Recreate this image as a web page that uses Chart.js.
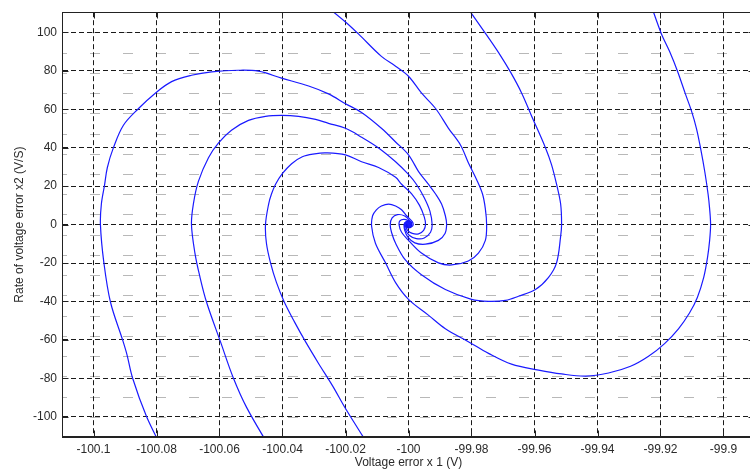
<!DOCTYPE html>
<html>
<head>
<meta charset="utf-8">
<script src="https://cdn.jsdelivr.net/npm/chart.js@4/dist/chart.umd.min.js"></script>
<style>
  html, body { margin: 0; padding: 0; background: #fff; overflow: hidden; }
  #wrap { width: 760px; height: 474px; }
</style>
</head>
<body>
<div id="wrap"><canvas id="c" width="760" height="474"></canvas></div>
<script>
// Axis ranges and tick marks
const xMin = -100.11, xMax = -99.89;
const yMin = -110.5, yMax = 110.5;
const xTicks = [-100.1, -100.08, -100.06, -100.04, -100.02, -100, -99.98, -99.96, -99.94, -99.92, -99.9];
const xTickLabels = ['-100.1', '-100.08', '-100.06', '-100.04', '-100.02', '-100', '-99.98', '-99.96', '-99.94', '-99.92', '-99.9'];
const yTicks = [-100, -80, -60, -40, -20, 0, 20, 40, 60, 80, 100];

// Phase trajectories [x1, x2] spiralling into the equilibrium point
const trajA = [
  [-100.0785, -115.6], [-100.0832, -99.7], [-100.0876, -79.8], [-100.0894, -67.5], [-100.0908, -59.8],
  [-100.0946, -40.4], [-100.0967, -19.9], [-100.0978, 0], [-100.0975, 10.7], [-100.0965, 20.5],
  [-100.0956, 29.7], [-100.0937, 39.9], [-100.0905, 51.7], [-100.0857, 60.4], [-100.0803, 68.5],
  [-100.0752, 74.4], [-100.0689, 77.7], [-100.0625, 79.5], [-100.0540, 80.3], [-100.0476, 79.8],
  [-100.0403, 76.2], [-100.0317, 72.1], [-100.0254, 68.0], [-100.0200, 62.9], [-100.0149, 58.3],
  [-100.0086, 50.1], [-100.0041, 43.0], [-100.0000, 36.3], [-99.9968, 27.6], [-99.9937, 21.0],
  [-99.9914, 15.9], [-99.9895, 10.7], [-99.9883, 4.6], [-99.9879, 0], [-99.9884, -4.6],
  [-99.9905, -8.2], [-99.9946, -10.2], [-99.9980, -9.5], [-100.0002, -6.5], [-100.0012, -3],
  [-100.0014, 0], [-100.0010, 1.2], [-100.0003, 1.3], [-99.9999, 0.3], [-100, 0]
];
const trajB = [
  [-100.0442, -115.6], [-100.0514, -95.1], [-100.0556, -79.8], [-100.0597, -60.9], [-100.0641, -40.4],
  [-100.0663, -26.6], [-100.0678, -14.8], [-100.0689, 0], [-100.0683, 10.7], [-100.0667, 22.5],
  [-100.0635, 34.8], [-100.0603, 42.5], [-100.0562, 49.1], [-100.0508, 54.2], [-100.0454, 56.3],
  [-100.0403, 56.8], [-100.0349, 56.3], [-100.0295, 54.7], [-100.0254, 52.7], [-100.0200, 50.1],
  [-100.0149, 45.5], [-100.0095, 39.9], [-100.0041, 32.7], [-100.0000, 26.1], [-99.9975, 21.0],
  [-99.9950, 14], [-99.9932, 7], [-99.9925, 0], [-99.9930, -4], [-99.9950, -7],
  [-99.9975, -7.3], [-99.9998, -5.5], [-100.0010, -2.5], [-100.0013, 0], [-100.0010, 1],
  [-100.0004, 1], [-100, 0]
];
const trajC = [
  [-100.0124, -115.6], [-100.0200, -95.7], [-100.0241, -83.9], [-100.0286, -72.1], [-100.0327, -60.9],
  [-100.0362, -50.6], [-100.0394, -40.4], [-100.0419, -30.2], [-100.0438, -19.9], [-100.0451, -9.7],
  [-100.0454, 0], [-100.0444, 10.7], [-100.0435, 15.9], [-100.0422, 21.0], [-100.0400, 26.6],
  [-100.0371, 31.7], [-100.0337, 35.3], [-100.0298, 36.8], [-100.0263, 37.3], [-100.0200, 36.3],
  [-100.0149, 32.7], [-100.0095, 29.7], [-100.0041, 24.6], [-100.0022, 21.0], [-99.9990, 16],
  [-99.9965, 10], [-99.9950, 4], [-99.9946, 0], [-99.9952, -3], [-99.9968, -4.8],
  [-99.9988, -4.6], [-100.0003, -3], [-100.0009, -1], [-100.0009, 0.4], [-100.0004, 0.7],
  [-100, 0]
];
const trajD = [
  [-100.0276, 115.6], [-100.0200, 105.4], [-100.0159, 99.2], [-100.0086, 87.5], [-100.0041, 82.4],
  [-100.0000, 77.2], [-99.9959, 68.5], [-99.9914, 60.4], [-99.9873, 50.1], [-99.9835, 41.4],
  [-99.9810, 32.2], [-99.9784, 23.5], [-99.9765, 15.9], [-99.9756, 8.2], [-99.9752, 0],
  [-99.9756, -8.2], [-99.9778, -14.8], [-99.9810, -18.9], [-99.9863, -21.0], [-99.9905, -19.9],
  [-99.9959, -14.8], [-100.0000, -8.2], [-100.0022, -4], [-100.0030, 0], [-100.0027, 2],
  [-100.0015, 2.7], [-100.0003, 2.2], [-99.9996, 0.8], [-99.9997, -0.2], [-100, 0]
];
const trajE = [
  [-99.9825, 115.6], [-99.9759, 100.3], [-99.9714, 89.5], [-99.9676, 79.3], [-99.9641, 68.5],
  [-99.9610, 56.8], [-99.9565, 39.9], [-99.9546, 31.2], [-99.9530, 21.0], [-99.9517, 10.7],
  [-99.9514, 0], [-99.9517, -6.1], [-99.9530, -19.9], [-99.9556, -27.6], [-99.9597, -33.8],
  [-99.9651, -37.3], [-99.9692, -39.4], [-99.9746, -39.9], [-99.9800, -38.9], [-99.9883, -33.8],
  [-99.9959, -26.1], [-100.0010, -18.4], [-100.0041, -9.7], [-100.0054, -4], [-100.0058, 0],
  [-100.0052, 3.5], [-100.0035, 5.2], [-100.0012, 4.5], [-99.9996, 2], [-99.9992, 0],
  [-99.9996, -0.6], [-100, 0]
];
const trajF = [
  [-99.9233, 115.6], [-99.9197, 99.2], [-99.9171, 90.0], [-99.9146, 79.8], [-99.9121, 68.0],
  [-99.9102, 59.3], [-99.9086, 50.1], [-99.9073, 39.9], [-99.9059, 27.1], [-99.9049, 15.9],
  [-99.9044, 8.2], [-99.9041, 0], [-99.9044, -8.2], [-99.9051, -17.4], [-99.9063, -27.6],
  [-99.9083, -37.9], [-99.9108, -46.0], [-99.9143, -54.2], [-99.9187, -61.9], [-99.9238, -68.5],
  [-99.9295, -73.7], [-99.9365, -77.2], [-99.9438, -78.8], [-99.9514, -77.7], [-99.9587, -75.7],
  [-99.9673, -72.6], [-99.9746, -67.0], [-99.9810, -60.9], [-99.9883, -54.2], [-99.9937, -47.1],
  [-100.0000, -38.9], [-100.0041, -30.2], [-100.0073, -19.9], [-100.0105, -9.7], [-100.0117, -1.0],
  [-100.0114, 4.6], [-100.0102, 7.7], [-100.0086, 9.7], [-100.0063, 10.7], [-100.0041, 9.7],
  [-100.0022, 7.7], [-100.0006, 4.6], [-99.9988, 1.5], [-99.9985, 0], [-99.9988, -0.9],
  [-99.9996, -1.2], [-100.0001, -0.5], [-100, 0]
];
// Equilibrium point
const equilibrium = [[-100, 0]];

const trajectories = [trajA, trajB, trajC, trajD, trajE, trajF];
const toXY = arr => arr.map(([x, y]) => ({ x, y }));

const textColor = '#2a2a2a';
const tickFont = { family: "'Liberation Sans', Arial, sans-serif", size: 12 };

// Plot frame: faint background dashes, closed box and inward tick marks
const framePlugin = {
  id: 'framePlugin',
  beforeDraw(chart) {
    const { ctx, chartArea: a } = chart;
    ctx.save();
    ctx.fillStyle = '#ffffff';
    ctx.fillRect(0, 0, chart.width, chart.height);
    ctx.strokeStyle = '#b8b8b8';
    ctx.lineWidth = 1.2;
    const n = 21;
    const sx = (a.right - a.left) / n, sy = (a.bottom - a.top) / n;
    ctx.beginPath();
    for (let j = 1; j < n; j++) {
      const py = Math.round(a.top + j * sy) + 0.5;
      for (let i = 0; i <= n; i++) {
        const px = a.left + i * sx;
        ctx.moveTo(Math.max(a.left, px - 5), py);
        ctx.lineTo(Math.min(a.right, px + 5), py);
      }
    }
    ctx.stroke();
    ctx.restore();
  },
  afterDraw(chart) {
    const { ctx, chartArea: a, scales: { x, y } } = chart;
    ctx.save();
    ctx.strokeStyle = '#222';
    ctx.lineWidth = 1;
    const L = Math.round(a.left) + 0.5, T = Math.round(a.top) + 0.5;
    const R = Math.round(a.right) - 0.5, B = Math.round(a.bottom) - 0.5;
    ctx.strokeRect(L, T, R - L, B - T);
    ctx.beginPath();
    x.ticks.forEach(t => {
      const px = Math.round(x.getPixelForValue(t.value)) + 0.5;
      ctx.moveTo(px, B); ctx.lineTo(px, B - 6);
      ctx.moveTo(px, T); ctx.lineTo(px, T + 6);
    });
    y.ticks.forEach(t => {
      const py = Math.round(y.getPixelForValue(t.value)) + 0.5;
      ctx.moveTo(L, py); ctx.lineTo(L + 6, py);
      ctx.moveTo(R, py); ctx.lineTo(R - 6, py);
    });
    ctx.stroke();
    ctx.restore();
  }
};

const datasets = trajectories.map(t => ({
  data: toXY(t),
  showLine: true,
  borderColor: '#1a1aff',
  borderWidth: 1.2,
  pointRadius: 0,
  tension: 0.35,
  fill: false
}));
datasets.push({
  data: toXY(equilibrium),
  showLine: false,
  pointRadius: 4,
  pointBackgroundColor: '#1010ee',
  pointBorderWidth: 0
});
datasets.push({
  data: toXY(equilibrium),
  showLine: false,
  pointStyle: 'circle',
  pointRadius: 2.2,
  pointBorderColor: '#ff2020',
  pointBorderWidth: 1,
  pointBackgroundColor: 'rgba(0,0,0,0)'
});

new Chart(document.getElementById('c'), {
  type: 'scatter',
  data: { datasets },
  options: {
    responsive: false,
    animation: false,
    devicePixelRatio: 1,
    layout: { padding: { top: 5, right: 3.5, left: 0, bottom: 0 } },
    plugins: { legend: { display: false }, tooltip: { enabled: false } },
    scales: {
      x: {
        type: 'linear',
        min: xMin,
        max: xMax,
        afterBuildTicks: s => { s.ticks = xTicks.map(v => ({ value: v })); },
        afterFit: s => { s.height = 37; },
        ticks: {
          callback: (v, i) => xTickLabels[i],
          color: textColor, font: tickFont, padding: 5,
          autoSkip: false, maxRotation: 0
        },
        grid: { color: '#1a1a1a', lineWidth: 1, drawTicks: false },
        border: { display: true, color: '#222', width: 1, dash: [5, 3] },
        title: {
          display: true, text: 'Voltage error x 1 (V)', color: textColor,
          font: tickFont, padding: { top: 0, bottom: 4 }
        }
      },
      y: {
        type: 'linear',
        min: yMin,
        max: yMax,
        afterBuildTicks: s => { s.ticks = yTicks.map(v => ({ value: v })); },
        afterFit: s => { s.width = 62; },
        ticks: {
          callback: v => String(v),
          color: textColor, font: tickFont, padding: 5, autoSkip: false
        },
        grid: { color: '#1a1a1a', lineWidth: 1, drawTicks: false },
        border: { display: true, color: '#222', width: 1, dash: [5, 3] },
        title: {
          display: true, text: 'Rate of voltage error x2 (V/S)', color: textColor,
          font: tickFont, padding: { top: 12, bottom: 0 }
        }
      }
    }
  },
  plugins: [framePlugin]
});
</script>
</body>
</html>
